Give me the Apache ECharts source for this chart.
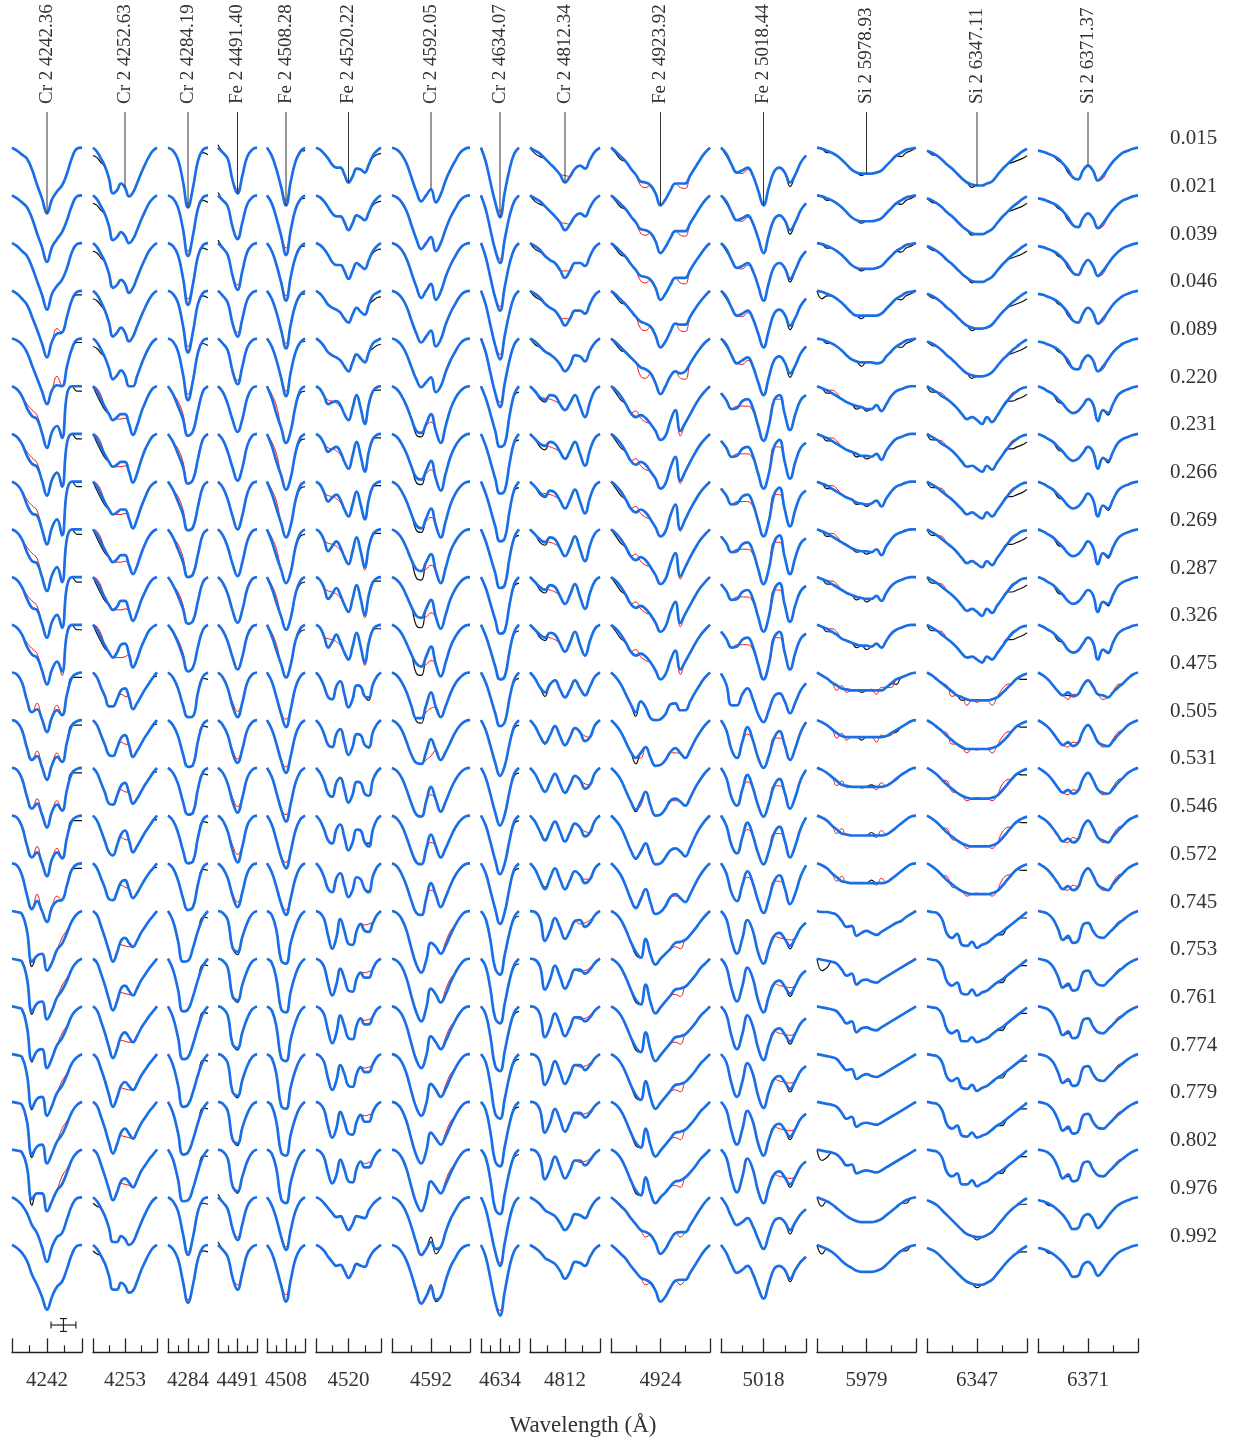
<!DOCTYPE html>
<html>
<head>
<meta charset="utf-8">
<script src="https://cdn.jsdelivr.net/npm/echarts@6/dist/echarts.min.js"></script>
<style>
html,body{margin:0;padding:0;background:#fff;}
#chart{width:1234px;height:1441px;}
</style>
</head>
<body>
<div id="chart"></div>
<script>
// Orbital phases, top row first
const phases = ['0.015','0.021','0.039','0.046','0.089','0.220','0.231','0.266','0.269','0.287','0.326','0.475',
  '0.505','0.531','0.546','0.572','0.745','0.753','0.761','0.774','0.779','0.802','0.976','0.992'];

// Lines shown, one panel each
const lineLabels = ['Cr 2 4242.36','Cr 2 4252.63','Cr 2 4284.19','Fe 2 4491.40','Fe 2 4508.28','Fe 2 4520.22',
  'Cr 2 4592.05','Cr 2 4634.07','Cr 2 4812.34','Fe 2 4923.92','Fe 2 5018.44','Si 2 5978.93','Si 2 6347.11','Si 2 6371.37'];
const tickLabels = ['4242','4253','4284','4491','4508','4520','4592','4634','4812','4924','5018','5979','6347','6371'];

// Line depths in units of 0.001 of the continuum (blue model), sampled evenly across each panel,
// one row per phase. Observed (black) and red-model points are given as [fromRow, toRow, sample, depth]
// wherever they depart from the blue model.
const cr4242 = [
[0,3,7,11,22,37,51,66,52,44,38,26,10,1,0],
[0,3,7,12,23,38,52,67,52,44,37,25,10,1,0],
[0,3,8,13,24,38,52,67,51,43,37,25,9,1,0],
[0,3,8,14,26,39,53,67,51,43,42,26,9,1,0],
[0,2,6,14,27,40,53,66,52,47,48,28,10,1,0],
[0,3,10,22,30,33,47,62,46,40,52,8,0,0,0],
[0,3,10,22,30,33,47,62,46,39,53,9,0,0,0],
[0,3,10,23,32,34,48,63,46,38,54,9,0,0,0],
[0,3,10,23,32,34,48,62,46,38,53,9,0,0,0],
[0,3,10,22,31,33,47,61,45,38,51,9,0,0,0],
[0,3,10,22,30,33,46,60,45,37,47,9,0,0,0],
[0,2,10,28,40,37,47,60,45,38,43,22,5,1,0],
[0,2,10,28,40,36,47,60,45,37,42,22,5,1,0],
[0,2,11,29,41,36,47,60,44,37,43,22,5,1,0],
[0,2,11,30,42,37,48,61,44,37,43,22,5,1,0],
[0,2,12,32,46,38,48,59,44,38,37,22,6,1,0],
[0,1,3,20,51,45,43,60,52,39,33,22,10,3,0],
[0,1,3,20,53,45,43,61,52,39,32,22,10,3,0],
[0,1,3,21,54,45,43,62,52,39,32,21,9,3,0],
[0,1,3,21,54,45,43,62,52,39,32,21,9,3,0],
[0,1,3,20,53,45,43,62,52,40,33,22,10,3,0],
[0,1,3,18,50,44,44,62,52,41,35,23,10,3,0],
[0,3,8,16,28,36,50,65,50,40,36,22,8,1,0],
[0,3,8,16,30,40,52,65,52,42,37,24,9,1,0]];
const cr4242Obs = [[5,15,13,5],[5,15,14,5],[16,21,4,56],[3,4,13,4],[3,4,14,4]];
const cr4242Red = [[5,10,3,18],[5,10,4,24],[5,10,5,29],[3,4,9,38],[10,10,10,51],[11,15,5,31],[11,15,9,33],[16,21,10,27],[16,21,11,19]];

const cr4253 = [
[0,4,11,19,31,46,43,36,40,49,45,36,26,17,9,3,0],
[0,4,11,19,31,45,42,37,41,48,44,35,25,16,8,3,0],
[0,4,11,19,31,45,42,37,41,50,45,35,25,16,8,3,0],
[0,4,11,20,32,46,42,37,42,51,46,36,26,17,9,3,0],
[0,4,11,19,30,41,37,32,37,48,48,38,27,17,9,3,0],
[0,5,13,21,28,34,31,28,28,38,49,40,27,17,8,2,0],
[0,5,13,21,28,33,31,28,28,38,49,40,27,16,8,2,0],
[0,5,13,21,28,33,31,28,28,37,47,38,26,16,7,2,0],
[0,5,13,21,28,33,30,26,26,36,45,37,25,15,7,2,0],
[0,5,13,21,28,33,30,24,24,34,44,36,24,15,7,2,0],
[0,5,13,21,28,33,28,20,19,30,43,35,23,14,6,2,0],
[0,5,15,24,34,34,27,18,16,25,37,31,24,17,11,5,0],
[0,5,15,25,35,36,28,18,15,25,37,31,24,17,11,5,0],
[0,5,15,25,36,37,28,18,15,25,36,31,24,17,11,5,0],
[0,5,15,26,37,40,30,19,15,25,37,31,24,17,11,5,0],
[0,5,15,25,36,37,29,19,17,26,35,30,23,16,10,5,0],
[0,4,15,27,40,51,42,30,27,32,36,30,22,16,10,5,0],
[0,4,15,27,41,52,43,30,27,32,37,30,22,16,10,5,0],
[0,4,15,27,41,52,43,30,26,31,36,30,22,16,10,5,0],
[0,4,15,27,41,53,44,32,28,32,36,30,22,16,10,5,0],
[0,4,15,27,41,52,43,31,27,32,37,30,22,16,10,5,0],
[0,4,15,27,40,51,43,32,29,33,38,31,22,16,10,5,0],
[0,4,11,19,31,45,45,39,42,48,45,36,26,17,9,3,0],
[0,4,11,19,31,45,45,38,41,48,46,37,26,17,9,3,0]];
const cr4253Obs = [[0,4,0,8],[0,4,1,10],[0,4,2,15],[5,10,1,9],[5,10,2,17],[5,10,3,24],[11,15,16,4],[22,23,0,6],[22,23,1,9]];
const cr4253Red = [[5,10,1,2],[5,10,2,9],[5,10,6,33],[5,10,7,33],[5,10,8,32],[11,15,7,22],[11,15,8,24],[16,21,7,34],[16,21,8,35],[16,21,9,36]];

const cr4284 = [
[0,3,12,34,60,40,13,2,0],
[0,3,12,34,61,40,13,2,0],
[0,3,12,35,62,41,13,2,0],
[0,3,12,35,62,41,13,2,0],
[0,3,13,36,62,42,14,2,0],
[0,8,20,33,50,45,24,5,0],
[0,8,20,33,50,46,25,5,0],
[0,8,20,33,49,46,25,5,0],
[0,8,20,33,48,45,25,5,0],
[0,8,19,32,47,44,24,5,0],
[0,7,18,32,47,43,22,5,0],
[0,5,16,33,45,44,20,4,0],
[0,5,16,34,47,45,21,4,0],
[0,5,16,34,47,45,21,4,0],
[0,5,17,35,48,46,22,4,0],
[0,5,17,35,47,44,21,4,0],
[0,10,30,51,50,37,20,7,0],
[0,11,31,53,51,38,21,7,0],
[0,11,31,53,51,38,21,7,0],
[0,11,31,53,51,38,21,7,0],
[0,11,31,53,51,38,21,7,0],
[0,10,30,52,51,39,22,7,0],
[0,4,14,37,58,40,14,2,0],
[0,4,14,37,58,40,14,2,0]];
const cr4284Obs = [[0,4,7,5],[0,4,8,7],[11,23,7,6],[11,23,8,7]];
const cr4284Red = [[0,4,4,56],[5,10,2,15],[5,10,3,28],[22,23,4,55]];

const fe4491 = [
[0,5,11,33,46,28,9,2,0],
[0,5,11,32,44,27,9,2,0],
[0,5,12,33,47,28,9,2,0],
[0,5,12,33,46,28,9,2,0],
[0,5,12,33,46,28,9,2,0],
[0,6,18,34,46,33,12,2,0],
[0,6,18,34,47,34,12,2,0],
[0,6,18,35,48,34,12,2,0],
[0,6,18,35,47,33,12,2,0],
[0,6,17,34,46,33,12,2,0],
[0,6,17,33,45,32,11,2,0],
[0,5,16,34,45,30,10,2,0],
[0,5,15,33,43,29,10,2,0],
[0,5,16,34,45,30,10,2,0],
[0,5,16,35,47,31,10,2,0],
[0,5,15,33,44,29,10,2,0],
[0,2,9,37,41,26,12,3,0],
[0,2,9,38,42,26,12,3,0],
[0,2,9,38,42,26,12,3,0],
[0,2,9,38,42,26,12,3,0],
[0,2,9,38,42,26,12,3,0],
[0,2,9,37,42,27,12,3,0],
[0,5,12,32,43,27,9,2,0],
[0,5,12,33,45,28,9,2,0]];
const fe4491Obs = [[0,2,0,-3],[16,21,4,44],[22,23,0,-3]];
const fe4491Red = [[0,4,4,42],[11,15,4,39],[11,15,3,30],[22,23,4,40]];

const fe4508 = [
[0,8,22,40,58,34,14,4,0],
[0,8,23,41,60,35,14,4,0],
[0,8,22,40,58,34,14,4,0],
[0,8,22,40,58,34,14,4,0],
[0,8,22,40,58,34,14,4,0],
[0,12,28,42,57,45,20,4,0],
[0,12,28,42,56,44,19,4,0],
[0,12,27,42,56,44,19,4,0],
[0,12,27,41,54,43,18,4,0],
[0,11,26,40,53,41,17,4,0],
[0,11,26,40,53,40,16,4,0],
[0,9,25,42,55,37,15,4,0],
[0,9,24,41,53,36,15,4,0],
[0,9,25,42,54,36,15,4,0],
[0,9,25,42,53,36,15,4,0],
[0,9,24,41,52,35,15,4,0],
[0,4,20,50,53,32,16,5,0],
[0,4,21,51,54,33,16,5,0],
[0,4,21,52,55,33,16,5,0],
[0,4,21,52,55,33,16,5,0],
[0,4,21,51,54,33,16,5,0],
[0,4,20,50,54,33,16,5,0],
[0,8,22,40,53,33,14,4,0],
[0,8,23,41,57,35,14,4,0]];
const fe4508Obs = [[5,10,8,5],[5,10,7,7],[0,4,8,3]];
const fe4508Red = [[0,4,4,53],[5,10,1,8],[5,10,2,20],[11,15,4,47],[22,23,4,50]];

const fe4520 = [
[0,2,6,11,17,20,20,27,35,29,21,22,25,17,8,3,0],
[0,2,6,12,18,21,21,27,35,28,20,22,25,17,8,3,0],
[0,2,6,12,19,22,22,28,36,28,20,23,26,17,8,3,0],
[0,3,8,14,17,19,22,28,32,24,17,21,24,14,5,2,0],
[0,3,8,14,17,19,22,28,33,24,16,20,24,14,5,2,0],
[0,3,10,18,16,15,19,28,34,22,9,22,38,18,5,1,0],
[0,3,10,18,15,13,18,28,35,22,8,22,38,18,5,1,0],
[0,3,11,20,16,13,18,28,35,23,10,23,38,18,5,1,0],
[0,3,11,22,17,12,18,28,35,22,8,22,38,18,5,1,0],
[0,3,11,22,17,11,18,28,35,22,8,22,38,18,5,1,0],
[0,3,12,23,17,10,18,28,35,22,8,22,38,18,5,1,0],
[0,5,14,25,27,14,9,22,35,27,13,14,24,25,12,4,0],
[0,5,14,25,27,14,9,22,35,27,14,15,25,27,12,4,0],
[0,5,14,26,29,15,10,22,35,27,14,15,26,28,12,4,0],
[0,5,14,25,28,14,9,22,35,27,14,15,27,31,14,4,0],
[0,5,14,26,29,15,10,22,34,27,14,16,26,29,13,4,0],
[0,2,8,25,38,27,8,20,33,34,20,13,20,21,12,4,0],
[0,2,8,25,37,26,10,20,32,33,20,14,19,19,10,3,0],
[0,2,8,25,37,27,9,20,32,33,19,12,18,18,10,3,0],
[0,2,8,25,36,27,11,20,32,33,20,13,18,18,10,3,0],
[0,2,8,25,36,27,10,20,32,33,20,13,20,20,10,3,0],
[0,2,8,24,34,26,10,20,32,33,19,12,18,18,10,3,0],
[0,2,6,11,16,20,19,26,33,27,19,20,21,13,7,3,0],
[0,2,6,12,17,21,20,26,33,27,19,21,22,14,7,3,0]];
const fe4520Obs = [[0,4,14,10],[0,4,15,7],[0,4,16,6],[5,10,15,4],[5,10,16,4],[11,15,13,28]];
const fe4520Red = [[5,10,3,14],[5,10,4,15],[5,10,5,17],[5,10,6,21],[8,10,12,41],[16,21,12,14],[16,21,13,13],[16,21,14,11]];

const cr4592 = [
[0,2,7,16,30,44,54,48,42,55,47,33,22,13,5,1,0],
[0,2,7,16,30,44,54,48,42,56,48,34,22,13,5,1,0],
[0,2,7,16,30,44,55,48,41,57,49,34,22,13,5,1,0],
[0,2,7,16,30,43,52,46,40,56,49,34,22,13,5,1,0],
[0,2,7,16,29,41,49,44,39,54,48,34,22,13,5,1,0],
[0,3,10,20,33,45,47,38,28,45,57,40,23,12,5,1,0],
[0,3,10,20,33,44,46,37,27,45,57,40,23,12,5,1,0],
[0,3,10,20,33,44,47,37,27,44,56,40,23,12,5,1,0],
[0,3,9,19,31,40,42,33,25,42,54,39,22,12,5,1,0],
[0,3,9,19,30,39,41,32,23,40,52,38,22,12,5,1,0],
[0,3,9,19,30,39,42,32,22,40,52,38,22,12,5,1,0],
[0,3,10,20,34,46,46,33,20,35,45,34,21,11,5,1,0],
[0,3,10,22,35,43,44,32,19,30,40,32,22,12,5,1,0],
[0,3,10,22,36,47,49,34,19,32,44,34,22,12,5,1,0],
[0,3,10,22,36,47,49,34,19,31,42,33,22,12,5,1,0],
[0,3,11,23,38,50,52,36,20,32,44,34,22,12,5,1,0],
[0,2,8,20,38,54,62,50,32,36,43,35,24,14,6,1,0],
[0,2,8,20,38,54,63,50,30,36,44,36,24,14,6,1,0],
[0,2,8,20,38,54,62,50,30,36,43,35,24,14,6,1,0],
[0,2,8,20,38,54,62,50,30,36,43,35,24,14,6,1,0],
[0,2,8,20,38,54,62,50,31,37,43,35,24,14,6,1,0],
[0,2,8,20,38,54,62,50,32,38,44,35,24,14,6,1,0],
[0,2,7,16,30,46,58,52,45,52,50,35,22,13,5,1,0],
[0,2,7,16,30,46,59,52,43,55,52,36,22,13,5,1,0]];
const cr4592Obs = [[5,11,5,49],[5,11,6,51],[22,23,8,40],[22,23,9,57]];
const cr4592Red = [[5,12,8,36],[5,12,7,40],[13,15,8,27],[16,21,11,31],[16,21,12,20]];

const cr4634 = [
[0,14,35,55,70,45,22,6,0],
[0,14,35,55,68,44,21,6,0],
[0,14,35,55,68,44,21,6,0],
[0,14,35,55,69,45,22,6,0],
[0,14,35,55,69,45,22,6,0],
[0,12,28,45,61,58,30,8,0],
[0,12,28,45,60,57,30,8,0],
[0,12,28,45,60,57,30,8,0],
[0,12,28,44,59,56,29,8,0],
[0,11,27,43,57,54,28,7,0],
[0,11,26,42,55,52,27,7,0],
[0,10,25,41,54,50,26,7,0],
[0,10,26,43,56,46,24,6,0],
[0,10,27,45,58,47,24,6,0],
[0,10,27,45,59,48,25,6,0],
[0,10,28,46,61,49,25,6,0],
[0,8,30,58,64,44,22,6,0],
[0,8,31,60,65,45,22,6,0],
[0,8,31,60,65,45,22,6,0],
[0,8,31,60,65,45,22,6,0],
[0,8,31,60,65,45,22,6,0],
[0,8,31,60,65,45,22,6,0],
[0,12,33,55,69,46,22,6,0],
[0,12,34,57,71,47,22,6,0]];
const cr4634Obs = [[5,11,7,9],[5,11,8,6],[12,21,7,8],[12,21,8,5]];
const cr4634Red = [[0,4,4,64],[22,23,4,66]];

const cr4812 = [
[0,3,6,11,16,21,27,35,29,21,18,21,12,4,0],
[0,3,6,11,16,21,27,35,29,21,18,21,12,4,0],
[0,3,7,13,17,20,27,35,28,20,20,23,13,4,0],
[0,3,7,13,17,20,27,35,28,20,20,23,13,4,0],
[0,3,8,13,16,20,26,33,27,17,18,23,12,4,0],
[0,5,11,14,9,10,18,24,17,9,20,31,16,4,0],
[0,5,10,12,8,10,18,25,17,8,20,32,16,4,0],
[0,5,11,15,9,11,19,27,18,8,20,32,16,4,0],
[0,5,10,13,8,10,19,27,18,7,20,32,16,4,0],
[0,5,10,13,8,10,19,27,18,7,20,32,16,4,0],
[0,5,10,13,8,10,19,27,18,7,20,31,16,4,0],
[0,6,15,20,12,8,17,25,17,8,16,23,14,4,0],
[0,6,16,23,15,6,16,25,17,8,12,21,17,5,0],
[0,6,16,24,15,6,16,25,17,8,12,21,17,5,0],
[0,6,16,25,15,6,16,26,17,8,12,21,17,5,0],
[0,6,17,26,15,5,16,26,17,8,12,20,16,5,0],
[0,1,8,30,20,7,17,28,20,10,9,16,12,4,0],
[0,1,8,31,21,7,18,30,21,11,11,15,11,4,0],
[0,1,8,31,21,7,18,30,21,11,11,15,11,4,0],
[0,1,8,31,21,7,18,30,21,11,11,16,11,4,0],
[0,1,8,31,21,7,18,30,21,11,11,16,11,4,0],
[0,1,8,30,20,7,18,29,21,11,11,16,11,4,0],
[0,3,7,13,16,19,26,33,27,17,18,21,12,4,0],
[0,3,7,13,16,19,26,34,27,17,18,21,12,4,0]];
const cr4812Obs = [[0,4,1,6],[0,4,2,9],[5,10,2,13],[5,10,3,16],[11,15,3,24]];
const cr4812Red = [[0,3,7,28],[5,10,3,12],[5,10,4,13],[5,10,5,15],[12,15,11,16],[16,21,10,13],[16,21,11,12],[16,21,12,9]];

const fe4924 = [
[0,4,9,14,21,27,34,35,38,46,58,52,43,36,36,36,28,20,12,5,0],
[0,4,9,14,21,27,34,35,38,46,58,52,43,36,36,36,28,20,12,5,0],
[0,4,9,14,21,27,33,34,37,45,57,51,42,35,35,35,27,19,12,5,0],
[0,4,9,14,20,26,31,33,36,45,57,51,41,33,34,34,26,18,11,5,0],
[0,4,9,14,19,24,29,31,35,45,56,48,38,33,35,33,25,17,10,4,0],
[0,4,10,18,27,31,29,32,38,45,54,50,35,24,45,37,28,19,11,5,0],
[0,4,10,18,27,31,28,31,38,45,55,50,34,23,47,38,28,19,11,5,0],
[0,4,10,18,27,31,28,31,38,46,55,50,34,23,48,38,28,19,11,5,0],
[0,4,10,18,27,31,28,31,38,46,55,50,35,24,47,38,28,19,11,5,0],
[0,4,10,18,27,31,29,32,38,46,55,50,35,25,46,37,28,19,11,5,0],
[0,4,10,18,27,31,29,32,38,46,55,50,36,26,45,37,28,19,11,5,0],
[0,5,12,22,32,40,29,35,46,48,47,42,32,31,38,38,29,20,12,5,0],
[0,5,12,22,32,38,33,27,38,46,45,40,32,28,33,38,30,20,12,5,0],
[0,5,12,23,34,42,34,24,38,48,47,41,33,31,34,38,30,20,12,5,0],
[0,5,12,23,35,43,36,28,40,49,48,42,35,33,36,41,32,21,12,5,0],
[0,5,12,23,36,45,36,26,40,51,49,43,34,31,35,39,31,21,12,5,0],
[0,3,9,19,31,41,47,28,44,54,48,43,38,32,31,29,24,18,11,5,0],
[0,3,9,19,31,41,46,26,44,55,49,43,37,31,30,28,23,17,10,5,0],
[0,3,9,19,31,41,46,26,44,55,49,43,37,31,30,28,23,17,10,5,0],
[0,3,9,19,31,41,46,27,44,55,49,43,37,31,30,28,23,17,10,5,0],
[0,3,9,19,31,41,46,27,44,55,49,43,37,31,30,28,23,17,10,5,0],
[0,3,9,19,31,41,46,28,44,54,48,43,37,32,31,28,23,17,10,5,0],
[0,4,9,14,21,27,33,35,38,46,57,52,43,36,35,35,28,20,12,5,0],
[0,4,9,14,21,27,33,35,38,46,57,52,43,36,35,35,28,20,12,5,0]];
const fe4924Obs = [[0,4,1,6],[0,4,2,12],[5,10,1,7],[5,10,2,14],[11,15,5,44],[16,21,5,44]];
const fe4924Red = [[0,4,6,38],[0,4,7,40],[0,4,14,40],[0,4,15,41],[5,10,5,25],[5,10,6,32],[5,10,7,36],[5,10,14,50],
  [12,15,13,33],[12,15,6,38],[16,21,13,36],[16,21,14,38],[22,23,7,40],[22,23,14,40]];

const fe5018 = [
[0,6,17,25,23,20,28,43,58,40,24,20,25,35,27,15,8],
[0,6,17,25,23,20,28,43,58,40,24,20,25,35,27,15,8],
[0,6,17,25,23,20,28,43,58,40,24,20,25,36,27,15,8],
[0,6,17,25,23,20,28,43,57,40,23,19,24,35,27,15,8],
[0,6,17,25,22,19,28,44,57,39,22,18,24,35,27,15,8],
[7,14,23,22,15,13,22,40,55,40,14,9,28,44,28,14,9],
[7,14,23,22,15,13,22,40,55,40,13,6,28,45,28,14,9],
[7,14,23,22,15,13,22,40,55,40,13,6,28,45,28,14,9],
[7,14,23,22,15,13,22,40,55,40,13,6,28,45,28,14,9],
[7,14,23,22,15,13,22,40,55,40,13,6,28,45,28,14,9],
[7,14,23,22,15,13,22,40,55,40,13,7,28,45,28,14,9],
[1,12,33,33,22,16,27,42,50,38,24,21,29,41,30,18,11],
[0,10,30,38,22,7,20,38,48,36,18,11,25,40,28,12,2],
[0,10,30,38,22,7,20,38,49,36,18,11,25,41,29,12,2],
[0,10,30,38,22,7,20,38,49,36,18,11,25,42,30,13,2],
[0,10,30,38,22,8,20,38,50,36,18,12,25,41,30,13,2],
[0,8,30,43,28,9,20,42,53,38,25,22,28,35,27,17,12],
[0,8,30,43,28,9,20,42,54,38,25,22,28,35,27,17,12],
[0,8,30,43,28,9,20,42,54,38,25,22,28,35,27,17,12],
[0,8,30,43,28,9,20,42,54,38,25,22,28,35,27,17,12],
[0,8,30,43,28,9,20,42,54,38,25,22,28,35,27,17,12],
[0,8,30,43,28,9,20,42,54,38,25,22,28,35,27,17,12],
[0,8,20,28,25,21,29,42,52,38,24,21,25,33,25,17,12],
[0,8,20,28,25,21,29,43,54,39,24,21,25,34,25,17,12]];
const fe5018Obs = [[0,4,13,39],[0,4,1,8],[16,21,13,38],[22,23,13,37]];
const fe5018Red = [[0,4,4,26],[0,4,5,22],[5,10,3,20],[5,10,4,20],[5,10,5,20],[5,10,6,25],[5,10,11,13],
  [12,15,5,14],[12,15,11,18],[16,21,11,27],[16,21,12,28],[16,21,13,29]];

const si5979 = [
[0,1,3,5,8,12,17,22,25,26,26,26,25,23,18,13,8,5,2,1,0],
[0,1,3,5,8,12,17,22,25,26,26,26,25,23,18,13,8,5,2,1,0],
[0,1,3,5,8,12,17,22,25,26,26,26,25,23,18,13,8,5,2,1,0],
[0,1,3,5,8,12,17,22,25,25,25,25,25,23,18,13,8,5,2,1,0],
[0,1,3,5,8,12,17,21,23,24,24,24,25,24,18,13,8,5,2,1,0],
[0,2,4,7,10,13,16,18,20,21,23,23,19,25,18,10,5,3,1,0,0],
[0,2,4,7,10,13,16,18,20,22,22,23,20,26,17,10,5,3,1,0,0],
[0,2,4,7,10,13,16,18,21,22,23,22,19,25,17,10,5,3,1,0,0],
[0,2,4,7,10,13,16,19,21,22,22,23,20,26,17,10,5,3,1,0,0],
[0,2,4,7,10,13,16,18,20,21,22,22,19,24,16,9,5,3,1,0,0],
[0,2,4,7,10,14,16,18,20,21,21,22,19,23,16,9,5,3,1,0,0],
[0,3,6,10,13,16,17,18,18,18,18,18,18,18,15,11,7,5,3,1,0],
[0,2,5,9,13,16,17,17,17,17,17,17,17,17,16,13,10,7,4,1,0],
[0,2,5,9,13,17,18,19,19,19,19,19,19,19,18,15,11,7,4,1,0],
[0,2,5,10,14,18,19,20,20,20,20,20,20,20,19,16,12,8,4,1,0],
[0,2,5,10,14,18,19,20,20,20,20,20,20,20,19,16,12,8,4,1,0],
[0,1,1,2,4,10,16,15,25,22,20,22,24,21,18,15,12,10,6,3,0],
[0,1,2,3,5,11,17,15,26,22,21,23,24,21,18,15,12,9,6,3,0],
[0,1,2,3,5,11,17,15,26,22,21,23,24,21,18,15,12,9,6,3,0],
[0,1,2,3,5,11,16,15,25,22,20,22,23,21,18,15,12,9,6,3,0],
[0,1,2,3,5,11,17,15,25,22,21,22,23,21,18,15,12,9,6,3,0],
[0,1,2,3,5,10,16,15,24,22,21,22,23,21,18,15,12,9,6,3,0],
[0,2,4,7,11,15,19,22,24,25,25,25,24,22,18,14,10,6,3,1,0],
[0,2,4,7,11,16,20,23,26,27,27,27,26,24,20,15,10,6,3,1,0]];
const si5979Obs = [[0,4,2,5],[0,4,9,28],[0,4,17,9],[0,4,18,5],[0,4,19,3],[3,3,1,8],[5,10,2,7],[5,10,8,23],[5,10,10,25],
  [11,15,9,20],[11,15,11,17],[11,15,16,12],[17,17,1,12],[17,17,2,9],[21,21,1,11],[21,21,2,8],[22,23,1,9],[22,23,18,6]];
const si5979Red = [[11,15,4,18],[11,15,5,13],[11,15,6,20],[11,15,12,22],[11,15,13,15],[11,15,15,15],[5,10,3,4],[5,10,4,7]];

const si6347 = [
[3,5,8,12,17,21,26,31,35,37,38,38,36,34,28,22,17,12,8,4,1],
[3,5,8,12,17,21,26,31,35,38,39,39,37,34,28,22,17,12,8,4,1],
[3,5,8,12,17,21,26,31,35,38,39,39,37,34,28,22,17,12,8,4,1],
[3,5,8,12,17,21,26,31,35,37,38,38,37,34,28,22,17,12,8,4,1],
[3,5,8,12,17,21,26,31,35,37,38,38,37,34,28,22,17,12,8,4,1],
[0,3,6,10,13,17,22,28,33,31,34,38,31,36,30,22,15,9,5,2,1],
[0,3,6,10,13,17,22,28,33,32,35,38,32,36,29,22,15,9,5,2,1],
[0,3,6,10,14,18,23,28,33,31,34,37,31,35,29,22,15,9,5,2,1],
[0,3,6,10,14,18,23,29,34,32,35,38,32,36,29,22,15,9,5,2,1],
[0,3,6,10,14,18,23,29,34,32,35,39,32,36,29,22,15,9,5,2,1],
[0,3,6,10,14,18,23,29,33,32,35,38,32,35,29,22,15,9,5,2,1],
[0,3,7,11,15,19,23,25,27,28,28,28,28,27,25,21,16,11,6,3,1],
[0,3,7,11,16,20,24,27,29,29,29,29,29,28,26,22,17,11,6,3,1],
[0,3,7,12,17,21,25,28,30,31,31,31,31,30,28,23,17,11,6,3,1],
[0,3,7,12,17,21,25,28,30,31,31,31,31,30,28,23,17,11,6,3,1],
[0,3,7,12,17,21,25,28,30,31,31,31,31,30,28,23,17,11,6,3,1],
[0,1,2,8,23,27,23,34,35,31,37,34,32,28,24,21,17,13,9,5,1],
[0,1,2,8,23,27,24,35,36,31,37,34,32,28,24,21,17,13,9,5,1],
[0,1,2,8,23,27,24,35,35,31,36,34,32,28,24,21,17,13,9,5,1],
[0,1,2,8,23,27,24,34,35,31,37,34,32,28,24,21,17,13,9,5,1],
[0,1,2,8,23,27,24,34,35,31,36,34,32,28,24,21,17,13,9,5,1],
[0,1,2,8,23,27,24,35,35,31,37,34,32,28,24,21,17,13,9,5,1],
[3,5,8,13,18,23,28,33,37,39,40,40,38,35,29,23,17,12,8,4,1],
[3,5,8,13,18,23,28,33,37,39,40,40,38,35,29,23,17,12,8,4,1]];
const si6347Obs = [[0,10,17,15],[0,10,18,13],[0,10,19,11],[0,10,20,8],[0,4,1,7],[0,4,9,40],[11,23,19,7],[11,23,20,7],
  [5,10,1,6],[11,15,7,28],[16,21,15,24],[22,23,10,43]];
const si6347Red = [[11,15,4,13],[11,15,5,24],[11,15,8,33],[11,15,10,30],[11,15,13,33],[11,15,15,17],[11,15,16,12],[5,10,3,7],[5,10,17,7]];

const si6371 = [
[3,4,6,8,11,16,22,30,32,23,18,23,33,28,21,14,9,5,3,1,0],
[3,4,6,8,11,16,22,30,32,23,18,23,33,28,21,14,9,5,3,1,0],
[3,4,6,8,11,16,22,30,32,23,17,23,33,28,21,14,9,5,3,1,0],
[3,4,6,8,11,16,22,30,32,23,17,22,33,28,21,14,9,5,3,1,0],
[3,4,6,8,11,16,22,30,31,22,17,22,33,28,21,14,9,5,3,1,0],
[0,2,5,8,13,18,24,27,25,19,13,18,35,24,27,18,9,5,3,1,0],
[0,2,5,8,13,18,24,27,25,19,13,18,35,24,27,18,9,5,3,1,0],
[0,2,5,8,13,18,24,27,25,19,12,18,35,24,27,18,9,5,3,1,0],
[0,2,5,8,13,18,24,27,25,19,12,18,35,24,27,18,9,5,3,1,0],
[0,2,5,8,13,18,24,27,25,19,13,18,35,25,27,18,9,5,3,1,0],
[0,2,5,8,13,18,25,28,26,19,13,18,35,25,28,18,9,5,3,1,0],
[0,3,7,13,19,23,20,24,22,13,8,14,22,23,25,20,15,11,6,2,0],
[0,3,7,13,20,25,22,26,23,11,5,12,22,25,26,21,15,10,5,2,0],
[0,3,7,13,20,25,22,26,23,11,5,12,22,25,26,21,15,10,5,2,0],
[0,3,7,13,20,26,23,27,24,11,5,12,22,25,27,21,15,10,5,2,0],
[0,3,7,13,20,26,23,27,24,11,5,12,22,25,27,21,15,10,5,2,0],
[0,1,3,8,18,29,25,32,30,14,12,20,26,27,23,18,13,9,5,2,0],
[0,1,3,8,18,29,25,32,30,14,12,20,26,27,23,18,13,9,5,2,0],
[0,1,3,8,18,29,25,32,30,14,12,20,26,27,23,18,13,9,5,2,0],
[0,1,3,8,18,29,25,32,30,14,12,20,26,27,23,18,13,9,5,2,0],
[0,1,3,8,18,29,25,32,30,14,12,20,26,27,23,18,13,9,5,2,0],
[0,1,3,8,18,29,25,32,30,14,12,20,26,27,23,18,13,9,5,2,0],
[3,4,6,9,13,18,25,32,31,20,17,22,31,26,19,13,8,5,3,1,0],
[3,4,6,9,13,18,25,32,31,20,17,22,31,26,19,13,8,5,3,1,0]];
const si6371Obs = [[0,4,4,13],[0,4,6,25],[5,10,4,16],[5,10,14,29],[11,15,6,23],[16,21,6,27],[22,23,2,8]];
const si6371Red = [[0,4,6,24],[0,4,13,31],[11,15,6,27],[11,15,7,22],[11,15,13,27],[11,15,15,19],[11,15,16,12],[16,21,16,11]];

// Page layout (pixels)
const panelLeft  = [12, 93, 168, 218, 267, 316, 392, 481, 530, 611, 721, 817, 927, 1038];
const panelRight = [82, 157, 208, 257, 305, 381, 470, 519, 600, 710, 806, 916, 1027, 1138];
const GRID_TOP = 100, GRID_HEIGHT = 1240.4;
const ROW_STEP = 0.048;                // vertical shift between successive phases
const Y_MIN = 0.904, Y_MAX = 2.152;
const SERIF = "'Liberation Serif','Times New Roman',serif";
const INK = '#333';

// Representative error bar: [Δλ centre, flux centre, Δλ half-width, flux half-height]
const errBar = [0.94, 0.9195, 0.71, 0.0065];

const panels = [
  {fit: cr4242, obs: cr4242Obs, red: cr4242Red},
  {fit: cr4253, obs: cr4253Obs, red: cr4253Red},
  {fit: cr4284, obs: cr4284Obs, red: cr4284Red},
  {fit: fe4491, obs: fe4491Obs, red: fe4491Red},
  {fit: fe4508, obs: fe4508Obs, red: fe4508Red},
  {fit: fe4520, obs: fe4520Obs, red: fe4520Red},
  {fit: cr4592, obs: cr4592Obs, red: cr4592Red},
  {fit: cr4634, obs: cr4634Obs, red: cr4634Red},
  {fit: cr4812, obs: cr4812Obs, red: cr4812Red},
  {fit: fe4924, obs: fe4924Obs, red: fe4924Red},
  {fit: fe5018, obs: fe5018Obs, red: fe5018Red},
  {fit: si5979, obs: si5979Obs, red: si5979Red},
  {fit: si6347, obs: si6347Obs, red: si6347Red},
  {fit: si6371, obs: si6371Obs, red: si6371Red}
];

const NROW = phases.length;
const rowLevel = r => 1 + (NROW - 1 - r) * ROW_STEP;

function withAdjustments(base, adj) {
  const rows = base.map(r => r.slice());
  adj.forEach(([r0, r1, k, d]) => { for (let r = r0; r <= r1; r++) rows[r][k] = d; });
  return rows;
}
function toPoints(depths, r) {
  const n = depths.length;
  return depths.map((d, k) => [-2 + 4 * k / (n - 1), rowLevel(r) - d / 1000]);
}

const grids = [], xAxes = [], yAxes = [], series = [];
const styles = [
  {key: 'obs', color: '#111111', width: 1.2, z: 2},
  {key: 'red', color: '#f01818', width: 1.0, z: 3},
  {key: 'fit', color: '#1a6fe6', width: 2.7, z: 4}
];

panels.forEach((p, i) => {
  grids.push({left: panelLeft[i], width: panelRight[i] - panelLeft[i], top: GRID_TOP, height: GRID_HEIGHT});
  xAxes.push({
    gridIndex: i, type: 'value', min: -2, max: 2, interval: 2, offset: 12,
    axisLine: {show: true, onZero: false, lineStyle: {color: '#222', width: 1.3}},
    axisTick: {show: true, inside: true, length: 14, lineStyle: {color: '#222', width: 1.3}},
    minorTick: {show: true, splitNumber: 2, length: 7, lineStyle: {color: '#222', width: 1.2}},
    splitLine: {show: false}, minorSplitLine: {show: false},
    axisLabel: {margin: 18, color: INK, fontFamily: SERIF, fontSize: 21,
      formatter: v => (Math.abs(v) < 1e-9 ? tickLabels[i] : '')}
  });
  yAxes.push({gridIndex: i, type: 'value', min: Y_MIN, max: Y_MAX, show: false});

  const sets = {fit: p.fit, obs: withAdjustments(p.fit, p.obs), red: withAdjustments(p.fit, p.red)};
  styles.forEach(s => {
    sets[s.key].forEach((depths, r) => {
      series.push({
        type: 'line', xAxisIndex: i, yAxisIndex: i, data: toPoints(depths, r),
        showSymbol: false, symbol: 'none', smooth: 0.45, silent: true, z: s.z,
        lineStyle: {color: s.color, width: s.width}
      });
    });
  });
});

series.push({
  type: 'custom', xAxisIndex: 0, yAxisIndex: 0, silent: true, z: 5, clip: false,
  data: [errBar],
  renderItem: (params, api) => {
    const c = api.coord([api.value(0), api.value(1)]);
    const l = api.coord([api.value(0) - api.value(2), api.value(1)]);
    const r = api.coord([api.value(0) + api.value(2), api.value(1)]);
    const t = api.coord([api.value(0), api.value(1) + api.value(3)]);
    const b = api.coord([api.value(0), api.value(1) - api.value(3)]);
    const st = {stroke: '#222', lineWidth: 1.2};
    const seg = (x1, y1, x2, y2) => ({type: 'line', shape: {x1, y1, x2, y2}, style: st});
    return {type: 'group', children: [
      seg(l[0], c[1], r[0], c[1]), seg(l[0], c[1] - 3.5, l[0], c[1] + 3.5), seg(r[0], c[1] - 3.5, r[0], c[1] + 3.5),
      seg(c[0], t[1], c[0], b[1]), seg(c[0] - 3.5, t[1], c[0] + 3.5, t[1]), seg(c[0] - 3.5, b[1], c[0] + 3.5, b[1])
    ]};
  }
});

const chart = echarts.init(document.getElementById('chart'), null, {renderer: 'canvas'});
chart.setOption({
  animation: false, backgroundColor: '#fff',
  grid: grids, xAxis: xAxes, yAxis: yAxes, series: series
});

// Line identifications with leader lines down to the first spectrum, phase labels, axis title
const graphics = [];
panels.forEach((p, i) => {
  const mid = (p.fit[0].length - 1) / 2;
  const end = chart.convertToPixel({gridIndex: i}, [0, rowLevel(0) - p.fit[0][mid] / 1000]);
  graphics.push({type: 'line', silent: true, z: 6,
    shape: {x1: end[0], y1: 112, x2: end[0], y2: end[1]}, style: {stroke: '#333', lineWidth: 1}});
  graphics.push({type: 'text', silent: true, x: end[0], y: 104, rotation: Math.PI / 2,
    style: {text: lineLabels[i], font: '19px ' + SERIF, fill: INK, align: 'left', verticalAlign: 'middle'}});
});
phases.forEach((ph, r) => {
  const pt = chart.convertToPixel({gridIndex: panels.length - 1}, [2, rowLevel(r)]);
  graphics.push({type: 'text', silent: true, x: pt[0] + 32, y: pt[1] - 9,
    style: {text: ph, font: '21px ' + SERIF, fill: INK, align: 'left', verticalAlign: 'middle'}});
});
graphics.push({type: 'text', silent: true, x: 583, y: 1426,
  style: {text: 'Wavelength (Å)', font: '23px ' + SERIF, fill: INK, align: 'center', verticalAlign: 'middle'}});
chart.setOption({graphic: graphics});
</script>
</body>
</html>
